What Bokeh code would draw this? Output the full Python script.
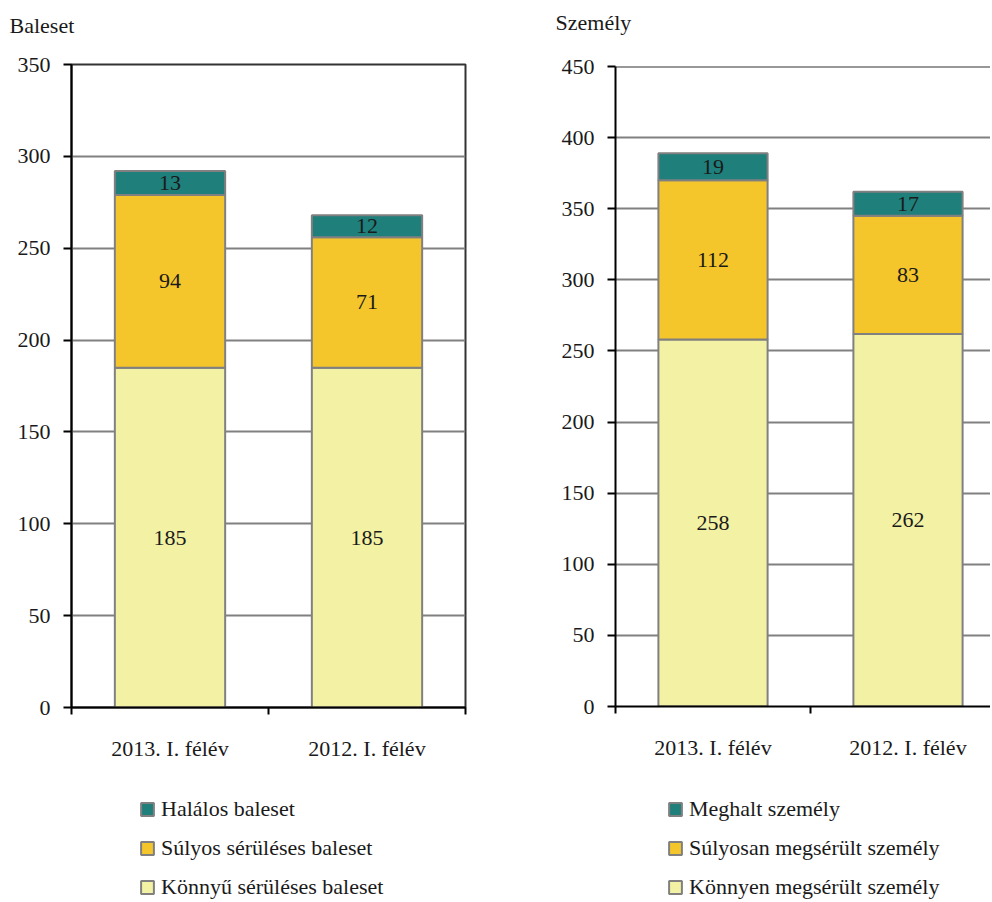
import numpy as np
from bokeh.plotting import figure
from bokeh.models import Range1d, FixedTicker, Legend, LegendItem, Span, ColumnDataSource
from bokeh.layouts import row, column
from bokeh.core.properties import value
from bokeh.embed import file_html
from bokeh.resources import INLINE

# ---------------- data ----------------
categories = ["2013. I. félév", "2012. I. félév"]

accident_series = ["Könnyű sérüléses baleset", "Súlyos sérüléses baleset", "Halálos baleset"]
accident_light = [185, 185]
accident_severe = [94, 71]
accident_fatal = [13, 12]
accident_yticks = [0, 50, 100, 150, 200, 250, 300, 350]

person_series = ["Könnyen megsérült személy", "Súlyosan megsérült személy", "Meghalt személy"]
person_light = [258, 262]
person_severe = [112, 83]
person_dead = [19, 17]
person_yticks = [0, 50, 100, 150, 200, 250, 300, 350, 400, 450]

COLORS = ["#F3F1A4", "#F4C62C", "#1F7F7B"]
FONT = "Liberation Serif"
TXT = "#1a1a1a"
FS = "22px"
HEADER_H = 52


def blank(width, height):
    f = figure(width=width, height=height, x_range=Range1d(0, 1), y_range=Range1d(0, 1),
               x_axis_location=None, y_axis_location=None, min_border=0,
               output_backend="svg", toolbar_location=None, tools="")
    f.xgrid.grid_line_color = None
    f.ygrid.grid_line_color = None
    f.outline_line_color = None
    f.background_fill_color = "white"
    f.border_fill_color = "white"
    return f


def make_source(values):
    data = {"x": [i + 0.5 for i in range(len(categories))]}
    keys = []
    for k, v in enumerate(values):
        data["s%d" % k] = v
        keys.append("s%d" % k)
    return ColumnDataSource(data), keys


def make_header(text, width, offset, standoff):
    h = blank(width, HEADER_H)
    h.title.text = text
    h.title.align = "left"
    h.title.offset = offset
    h.title.vertical_align = "top"
    h.title.standoff = standoff
    h.title.text_font = FONT
    h.title.text_font_size = FS
    h.title.text_font_style = "normal"
    h.title.text_color = TXT
    return h


def make_chart(values, yticks, frame_w, frame_h, left, top, right, bottom, xmax, outline):
    p = figure(frame_width=frame_w, frame_height=frame_h,
               min_border_left=left, min_border_top=top, min_border_right=right,
               min_border_bottom=bottom,
               x_range=Range1d(0, xmax), y_range=Range1d(yticks[0], yticks[-1]),
               output_backend="svg", toolbar_location=None, tools="")
    src, keys = make_source(values)
    xs = list(src.data["x"])
    p.vbar_stack(keys, x="x", width=0.56, source=src, fill_color=COLORS,
                 line_color="#808080", line_width=2)

    bottoms = np.zeros(len(xs))
    lx, ly, lt = [], [], []
    for v in values:
        v = np.array(v, dtype=float)
        mids = bottoms + v / 2
        lx += xs
        ly += list(mids)
        lt += [str(int(a)) for a in v]
        bottoms = bottoms + v
    p.text(x=lx, y=ly, text=lt, text_align="center", text_baseline="middle",
           text_font=value(FONT), text_font_size=FS, text_color=TXT)

    # x axis: labels at centres, ticks at category boundaries
    xa = p.xaxis[0]
    xa.ticker = FixedTicker(ticks=xs, minor_ticks=list(range(len(categories) + 1)))
    xa.major_label_overrides = {x: c for x, c in zip(xs, categories)}
    xa.major_tick_line_color = None
    xa.major_tick_out = 0
    xa.major_tick_in = 0
    xa.minor_tick_line_color = "black"
    xa.minor_tick_line_width = 2
    xa.minor_tick_out = 7
    xa.minor_tick_in = 0
    xa.axis_line_color = "black"
    xa.axis_line_width = 2
    xa.major_label_text_font = FONT
    xa.major_label_text_font_size = FS
    xa.major_label_text_color = TXT
    xa.major_label_standoff = 21

    ya = p.yaxis[0]
    ya.ticker = FixedTicker(ticks=yticks, minor_ticks=[])
    ya.major_tick_out = 8
    ya.major_tick_in = 0
    ya.major_tick_line_width = 2
    ya.major_tick_line_color = "black"
    ya.axis_line_color = "black"
    ya.axis_line_width = 2
    ya.major_label_text_font = FONT
    ya.major_label_text_font_size = FS
    ya.major_label_text_color = TXT
    ya.major_label_standoff = 13

    p.xgrid.grid_line_color = None
    p.ygrid.ticker = FixedTicker(ticks=yticks, minor_ticks=[])
    p.ygrid.grid_line_color = "#808080"
    p.ygrid.grid_line_width = 2

    if outline:
        p.outline_line_color = "#333333"
        p.outline_line_width = 2
    else:
        p.outline_line_color = None
        p.add_layout(Span(location=yticks[-1], dimension="width", line_color="#333333", line_width=2))

    p.background_fill_color = "white"
    p.border_fill_color = "white"
    return p


def make_legend(names, values, width, height, leg_x, leg_y):
    lf = blank(width, height)
    src, keys = make_source(values)
    # renderers only feed the legend swatches; they are hidden
    rs = lf.vbar_stack(keys, x="x", width=0.56, source=src, fill_color=COLORS,
                       line_color="#808080", line_width=2)
    for r in rs:
        r.visible = False
    items = [LegendItem(label=n, renderers=[r]) for n, r in zip(names, rs)][::-1]
    leg = Legend(items=items, location=(leg_x, leg_y), orientation="vertical",
                 border_line_color=None, background_fill_alpha=0,
                 inactive_fill_alpha=0,
                 glyph_width=16, glyph_height=16, label_standoff=6,
                 label_text_font=FONT, label_text_font_size=FS, label_text_color=TXT,
                 spacing=13, padding=0, margin=0, click_policy="none")
    lf.add_layout(leg, "center")
    return lf


acc_vals = [accident_light, accident_severe, accident_fatal]
per_vals = [person_light, person_severe, person_dead]

W1, W2 = 547, 443
h1 = make_header("Baleset", W1, -62, 24)
h2 = make_header("Személy", W2, -60, 19)
p1 = make_chart(acc_vals, accident_yticks, 394, 643, 71, 64 - HEADER_H, 82, 80, 2, True)
p2 = make_chart(per_vals, person_yticks, 375, 640, 68, 66 - HEADER_H, 0, 81, 375 / 195, False)
l1 = make_legend(accident_series, acc_vals, W1, 113, 68, 0)
l2 = make_legend(person_series, per_vals, W2, 113, 52, 0)

layout = row(column(h1, p1, l1), column(h2, p2, l2))
open("out.html", "w").write(file_html(layout, INLINE))
